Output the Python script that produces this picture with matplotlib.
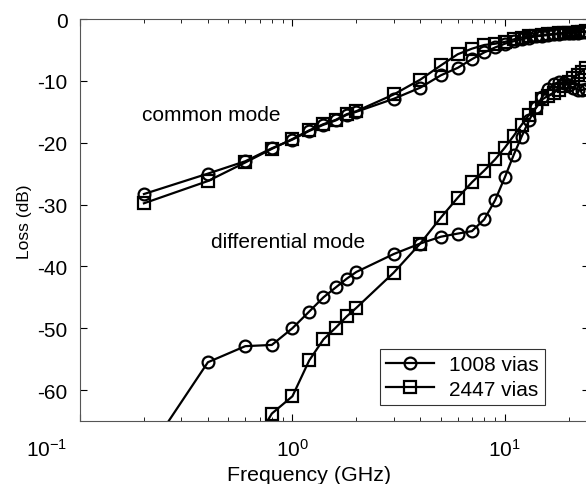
import matplotlib
matplotlib.use("Agg")
import matplotlib.pyplot as plt
from matplotlib.transforms import ScaledTranslation

plt.rcParams["font.family"] = ["Liberation Sans", "DejaVu Sans"]
plt.rcParams["axes.unicode_minus"] = False

# frequency points (GHz)
freq_cm = [0.2, 0.4, 0.6, 0.8, 1.0, 1.2, 1.4, 1.6, 1.8, 2.0,
           3, 4, 5, 6, 7, 8, 9, 10, 11, 12, 13, 14, 15, 16, 17, 18,
           19, 20, 21, 22, 23, 24]

# common mode loss (dB)
cm_1008 = [-28.3, -25.0, -23.0, -20.9, -19.5, -18.1, -17.1, -16.4, -15.5, -15.0,
           -12.9, -11.1, -9.1, -7.9, -6.5, -5.4, -4.6, -4.0, -3.6, -3.3, -3.0,
           -2.8, -2.7, -2.6, -2.5, -2.4, -2.3, -2.3, -2.2, -2.2, -2.1, -2.1]
cm_2447 = [-29.8, -26.2, -23.2, -21.0, -19.4, -18.0, -17.0, -16.3, -15.4, -14.9,
           -12.2, -9.8, -7.5, -5.7, -4.8, -4.2, -4.0, -3.7, -3.3, -3.0, -2.8,
           -2.7, -2.6, -2.5, -2.4, -2.3, -2.3, -2.2, -2.2, -2.1, -2.1, -2.0]

# differential mode loss (dB)
dm_1008 = [-71.0, -55.5, -52.9, -52.7, -50.0, -47.3, -45.0, -43.4, -42.0, -40.9,
           -38.0, -36.3, -35.2, -34.7, -34.3, -32.4, -29.3, -25.6, -22.0, -19.0,
           -16.4, -14.3, -12.6, -11.3, -10.5, -10.2, -10.3, -10.7, -11.1, -11.4,
           -11.5, -11.3]
dm_2447 = [-95.0, -82.0, -71.0, -63.8, -61.0, -55.2, -51.8, -49.9, -48.1, -46.7,
           -41.0, -36.3, -32.1, -28.9, -26.4, -24.5, -22.7, -20.8, -18.9, -17.1,
           -15.5, -14.4, -13.0, -12.4, -11.9, -11.4, -10.9, -10.2, -9.5, -9.0,
           -8.5, -8.0]

fig = plt.figure(figsize=(5.86, 4.85), dpi=100)
ax = fig.add_axes([80 / 586, 63 / 485, 509 / 586, 402 / 485])

style = dict(color="black", lw=1.6, markersize=8.5, markerfacecolor="none",
             markeredgewidth=1.6)
ax.plot(freq_cm, cm_1008, marker="o", label="1008 vias", **style)
ax.plot(freq_cm, cm_2447, marker="s", label="2447 vias", **style)
ax.plot(freq_cm, dm_1008, marker="o", **style)
ax.plot(freq_cm, dm_2447, marker="s", **style)

ax.set_xscale("log")
ax.set_xlim(0.1, 24.9)
ax.set_ylim(-65, 0)
ax.set_yticks([0, -10, -20, -30, -40, -50, -60])

ax.tick_params(which="both", direction="in", top=True, right=True,
               labelsize=15, colors="black")
ax.tick_params(which="major", length=5)
ax.tick_params(axis="x", which="major", pad=12)
ax.tick_params(axis="y", which="major", pad=9)
ax.tick_params(which="minor", length=3)
for sp in ax.spines.values():
    sp.set_color("#555555")

ax.set_xlabel("Frequency (GHz)", fontsize=15.4)
ax.xaxis.set_label_coords((309 - 80) / 509, (422 - 466) / 402)
ax.set_ylabel("Loss (dB)", fontsize=12.5)
ax.yaxis.set_label_coords((32 - 80) / 509, (422 - 222) / 402)

ax.text(0.195, -15.5, "common mode", fontsize=15, va="center")
ax.text(0.415, -35.9, "differential mode", fontsize=15, va="center")

leg = ax.legend(loc="lower left", bbox_to_anchor=((380 - 80) / 509, 0.04),
                fontsize=15, frameon=True, fancybox=False, handlelength=2.3,
                borderpad=0.3, labelspacing=0.25, handletextpad=0.7,
                borderaxespad=0)
leg.get_frame().set_edgecolor("black")
leg.get_frame().set_linewidth(0.8)

# the 10^-1 label sits left of its tick in the original
fig.canvas.draw()
for lab in ax.get_xticklabels():
    if lab.get_position()[0] == 0.1:
        lab.set_transform(lab.get_transform() +
                          ScaledTranslation(-0.33, 0, fig.dpi_scale_trans))

fig.savefig("out.png", dpi=100)
